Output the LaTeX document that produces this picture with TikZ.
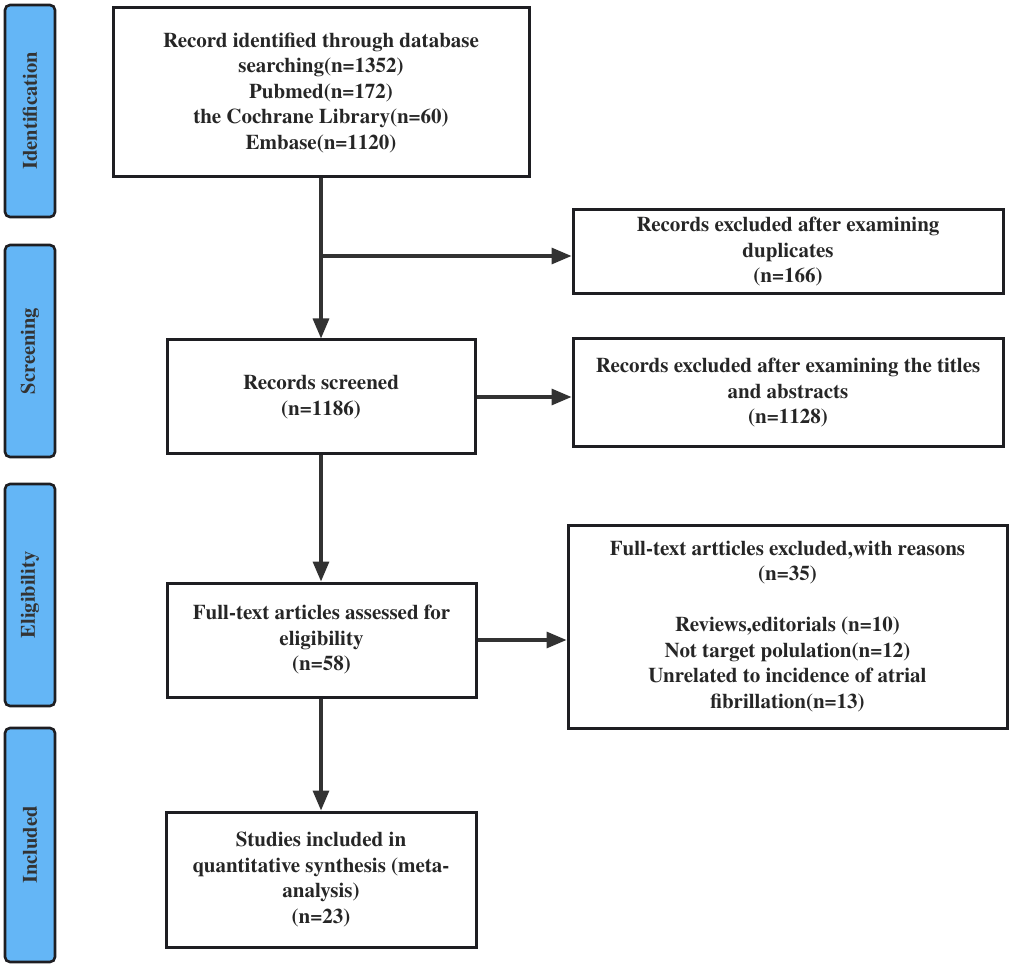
\documentclass[tikz,border=0pt]{standalone}
\usepackage{fontspec}
\setmainfont{texgyretermes}[Extension=.otf,UprightFont=*-regular,BoldFont=*-bold,ItalicFont=*-italic,BoldItalicFont=*-bolditalic]
\usetikzlibrary{arrows.meta,calc}
\definecolor{barblue}{RGB}{100,182,246}
\definecolor{edge}{RGB}{30,30,34}
\definecolor{arr}{RGB}{50,50,50}
\begin{document}
\begin{tikzpicture}[x=1pt,y=-1pt,
  box/.style={draw=edge,line width=3pt,fill=white},
  txt/.style={align=center,inner sep=0pt,font=\fontsize{21}{25.5}\selectfont\bfseries,text=black!85},
  bar/.style={draw=edge,line width=2.6pt,fill=barblue,rounded corners=5pt,
    minimum width=50pt},
  barlabel/.style={rotate=90,font=\fontsize{20.5}{22}\selectfont\bfseries,text=black!80},
  flow/.style={draw=arr,line width=3.2pt,-{Triangle[length=20pt,width=16pt]}}]
\useasboundingbox (0,0) rectangle (1013,968);
% side bars
\node[bar,minimum height=212pt] (bi) at (30,111) {};
\node[barlabel] (ti) at (bi) {Identification};
\node[bar,minimum height=212pt] (bs) at (30,351) {};
\node[barlabel] (ts) at (bs) {Screening};
\node[bar,minimum height=222pt] (be) at (30,595) {};
\node[barlabel] (te) at (be) {Eligibility};
\node[bar,minimum height=234pt] (bn) at (30,845) {};
\node[barlabel] (tn) at (bn) {Included};
% main boxes
\node[box,minimum width=416pt,minimum height=169pt] (id) at (321,92.5) {};
\node[txt] (idt) at (321,93) {Record identified through database\\searching(n=1352)\\Pubmed(n=172)\\the Cochrane Library(n=60)\\Embase(n=1120)};
\node[box,minimum width=430pt,minimum height=84pt] (dup) at (788,252) {};
\node[txt] (dupt) at (dup) {Records excluded after examining\\duplicates\\(n=166)};
\node[box,minimum width=308pt,minimum height=114pt] (scr) at (321,397) {};
\node[txt] (scrt) at (scr) {Records screened\\(n=1186)};
\node[box,minimum width=430pt,minimum height=108pt] (tit) at (788,393) {};
\node[txt] (titt) at (tit) {Records excluded after examining the titles\\and abstracts\\(n=1128)};
\node[box,minimum width=309pt,minimum height=114pt] (ft) at (321.5,640) {};
\node[txt] (ftt) at (ft) {Full-text articles assessed for\\eligibility\\(n=58)};
\node[box,minimum width=439pt,minimum height=203pt] (rea) at (787.5,626.5) {};
\node[txt] (reat) at (rea) {Full-text artticles excluded,with reasons\\(n=35)\\[25.5pt]Reviews,editorials (n=10)\\Not target polulation(n=12)\\Unrelated to incidence of atrial\\fibrillation(n=13)};
\node[box,minimum width=310pt,minimum height=135pt] (st) at (321,879.5) {};
\node[txt] (stt) at (st) {Studies included in\\quantitative synthesis (meta-\\analysis)\\(n=23)};
% connectors
\coordinate (j) at (321,256);
\draw[flow] (id.south -| scr.north) -- (scr.north);
\draw[flow] (j) -- (j -| dup.west);
\draw[flow] (scr.east) -- (scr.east -| tit.west);
\draw[flow] (scr.south) -- (scr.south |- ft.north);
\draw[flow] (ft.east) -- (ft.east -| rea.west);
\draw[flow] (ft.south -| st.north) -- (st.north);
\end{tikzpicture}
\end{document}
